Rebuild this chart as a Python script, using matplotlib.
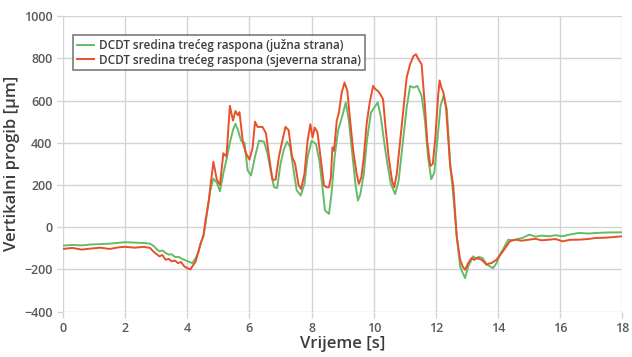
import matplotlib
matplotlib.use("Agg")
from matplotlib import pyplot as plt

# vrijeme [s] i progib [um], ocitano s grafa
time_north = [0.0, 0.3, 0.6, 0.9, 1.2, 1.5, 1.8, 2.0, 2.3, 2.6, 2.8, 2.9, 3.0, 3.1, 3.2, 3.3,
              3.4, 3.5, 3.6, 3.7, 3.8, 3.9, 4.0, 4.1, 4.16, 4.27, 4.35, 4.43, 4.52, 4.59, 4.65,
              4.7, 4.74, 4.84, 4.95, 5.05, 5.16, 5.26, 5.37, 5.47, 5.55, 5.63, 5.68, 5.79, 5.89,
              6.0, 6.1, 6.18, 6.26, 6.42, 6.53, 6.63, 6.74, 6.84, 6.95, 7.05, 7.16, 7.26, 7.37,
              7.47, 7.58, 7.66, 7.77, 7.87, 7.96, 8.03, 8.1, 8.19, 8.3, 8.4, 8.49, 8.56, 8.62,
              8.67, 8.72, 8.81, 8.88, 8.97, 9.06, 9.15, 9.23, 9.34, 9.45, 9.52, 9.6, 9.68, 9.77,
              9.87, 9.98, 10.05, 10.13, 10.21, 10.3, 10.37, 10.48, 10.59, 10.66, 10.74, 10.85,
              10.96, 11.06, 11.17, 11.28, 11.36, 11.44, 11.54, 11.65, 11.72, 11.82, 11.9, 11.98,
              12.07, 12.12, 12.18, 12.24, 12.33, 12.46, 12.56, 12.67, 12.78, 12.86, 12.94, 13.04,
              13.15, 13.23, 13.31, 13.39, 13.47, 13.55, 13.63, 13.71, 13.79, 13.87, 13.95, 14.05,
              14.16, 14.27, 14.38, 14.48, 14.59, 14.75, 15.01, 15.2, 15.4, 15.65, 15.85, 16.08,
              16.3, 16.61, 16.9, 17.14, 17.4, 17.7, 17.99]
deflection_north = [-103, -98, -106, -101, -97, -103, -95, -93, -97, -93, -98, -114, -126, -138, -132, -154,
                    -150, -162, -158, -170, -165, -185, -194, -200, -186, -162, -120, -75, -40, 37, 85,
                    132, 190, 310, 225, 200, 350, 335, 575, 505, 550, 530, 545, 400, 350,
                    320, 375, 500, 475, 475, 445, 335, 225, 225, 335, 405, 475, 460, 335,
                    300, 200, 181, 252, 409, 488, 425, 472, 449, 315, 197, 189, 189, 236,
                    378, 362, 504, 543, 638, 685, 646, 520, 362, 252, 205, 236, 331, 488,
                    591, 669, 654, 646, 630, 606, 488, 331, 220, 189, 252, 409,
                    567, 709, 772, 811, 819, 795, 772, 567, 409, 290, 300, 420,
                    620, 695, 660, 640, 560, 290, 195, -43, -154, -185, -202, -170,
                    -146, -155, -146, -150, -154, -165, -178, -172, -170, -162, -154, -135,
                    -114, -90, -67, -62, -59, -64, -59, -55, -62, -59, -56, -67,
                    -60, -59, -56, -51, -50, -47, -43]

time_south = [0.0, 0.3, 0.6, 0.9, 1.2, 1.5, 1.8, 2.0, 2.3, 2.6, 2.8, 2.93, 3.0, 3.1, 3.2, 3.3,
              3.41, 3.5, 3.6, 3.73, 3.8, 3.9, 4.0, 4.16, 4.27, 4.35, 4.43, 4.52, 4.59, 4.65,
              4.74, 4.84, 4.95, 5.05, 5.16, 5.26, 5.37, 5.47, 5.55, 5.63, 5.73, 5.84, 5.94,
              6.05, 6.18, 6.31, 6.47, 6.58, 6.68, 6.79, 6.89, 7.0, 7.1, 7.21, 7.31, 7.42,
              7.52, 7.65, 7.77, 7.87, 8.0, 8.14, 8.25, 8.35, 8.43, 8.56, 8.64, 8.74, 8.85,
              8.99, 9.1, 9.2, 9.31, 9.41, 9.49, 9.57, 9.68, 9.78, 9.91, 10.02, 10.13, 10.23,
              10.33, 10.44, 10.55, 10.69, 10.8, 10.94, 11.06, 11.17, 11.28, 11.4, 11.54, 11.65,
              11.75, 11.85, 11.95, 12.05, 12.15, 12.25, 12.35, 12.46, 12.56, 12.67, 12.78,
              12.86, 12.94, 13.04, 13.2, 13.3, 13.37, 13.5, 13.63, 13.74, 13.84, 13.95, 14.06,
              14.2, 14.33, 14.5, 14.65, 14.8, 15.01, 15.2, 15.4, 15.65, 15.85, 16.08, 16.3,
              16.61, 16.9, 17.2, 17.5, 17.99]
deflection_south = [-87, -84, -86, -82, -80, -78, -74, -71, -73, -75, -78, -90, -102, -114, -110, -122,
                    -130, -128, -141, -141, -148, -154, -160, -170, -146, -120, -80, -40, 20, 90,
                    175, 230, 210, 170, 255, 320, 400, 460, 490, 460, 410, 400, 270,
                    245, 335, 410, 405, 350, 270, 190, 185, 300, 365, 405, 380, 270,
                    175, 150, 205, 331, 409, 394, 315, 189, 79, 63, 157, 331, 457,
                    528, 591, 504, 346, 205, 126, 157, 252, 409, 543, 567, 591, 520,
                    409, 299, 205, 157, 220, 409, 567, 669, 661, 669, 622, 504,
                    330, 227, 260, 420, 576, 623, 560, 300, 150, -43, -186,
                    -215, -241, -186, -138, -150, -140, -146, -175, -186, -194, -170, -130,
                    -95, -59, -62, -55, -50, -35, -45, -40, -43, -38, -43, -35,
                    -27, -30, -27, -25, -24]

north_label = "DCDT sredina trećeg raspona (sjeverna strana)"
south_label = "DCDT sredina trećeg raspona (južna strana)"

x_ticks = list(range(0, 19, 2))
y_ticks = list(range(-400, 1001, 200))

plt.rcParams["font.family"] = ["Open Sans", "DejaVu Sans"]

fig = plt.figure(figsize=(6.32, 3.57), dpi=100)
ax = fig.add_axes([0.0997, 0.127, 0.885, 0.828])

ax.plot(time_south, deflection_south, color="#66bb6a", lw=1.4, label=south_label, zorder=3)
ax.plot(time_north, deflection_north, color="#e8502a", lw=1.4, label=north_label, zorder=4)

ax.set_xlim(0, 18)
ax.set_ylim(-400, 1000)
ax.set_xticks(x_ticks)
ax.set_yticks(y_ticks)
ax.grid(True, color="#d4d4d8", lw=1.0)
ax.set_axisbelow(True)
for s in ax.spines.values():
    s.set_visible(False)
ax.tick_params(colors="#d4d4d8", length=4, width=1.0, labelcolor="#58595b", labelsize=9)
for lbl in ax.get_xticklabels() + ax.get_yticklabels():
    lbl.set_fontweight("semibold")

ax.set_xlabel("Vrijeme [s]", fontsize=12, fontweight="semibold", color="#3c3c3e", labelpad=1)
ax.set_ylabel("Vertikalni progib [μm]", fontsize=12, fontweight="semibold", color="#3c3c3e", labelpad=3)

leg = ax.legend(loc="upper left", bbox_to_anchor=(0.018, 0.935), fontsize=8.5, frameon=True,
                fancybox=False, handlelength=1.5, handletextpad=0.4, borderpad=0.3,
                labelspacing=0.15, borderaxespad=0)
leg.get_frame().set_edgecolor("#5a5a5a")
leg.get_frame().set_linewidth(1.2)
for t in leg.get_texts():
    t.set_color("#3c3c3e")
    t.set_fontweight("semibold")

fig.savefig("out.png", dpi=100)
